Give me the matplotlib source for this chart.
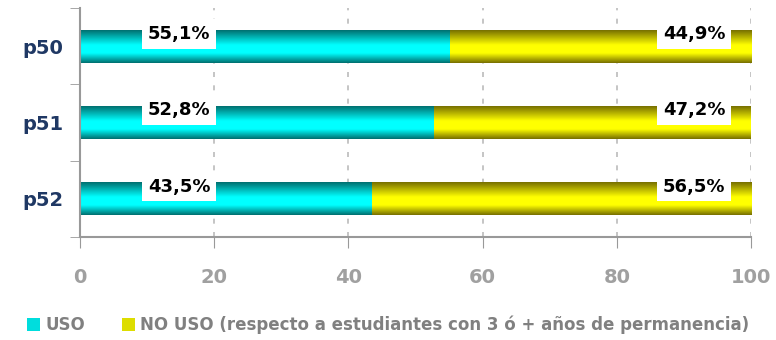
import numpy as np
import matplotlib.pyplot as plt
from matplotlib.colors import LinearSegmentedColormap
from matplotlib.patches import Patch

cats = ["p50", "p51", "p52"]
uso = [55.1, 52.8, 43.5]
no_uso = [44.9, 47.2, 56.5]
labels_uso = ["55,1%", "52,8%", "43,5%"]
labels_no = ["44,9%", "47,2%", "56,5%"]

cm_cyan = LinearSegmentedColormap.from_list(
    "c", [(0, "#007070"), (0.3, "#00FFFF"), (0.55, "#00FFFF"), (1, "#007070")])
cm_yel = LinearSegmentedColormap.from_list(
    "y", [(0, "#787000"), (0.3, "#FFFF00"), (0.55, "#FFFF00"), (1, "#787000")])
grad = np.linspace(0, 1, 100).reshape(-1, 1)

fig = plt.figure(figsize=(7.76, 3.4), dpi=100)
ax = fig.add_axes([0.1031, 0.3029, 0.8647, 0.6736])

y = np.arange(len(cats))
h = 0.43
b1 = ax.barh(y, uso, height=h, color="none")
b2 = ax.barh(y, no_uso, left=uso, height=h, color="none")
for bars, cm in ((b1, cm_cyan), (b2, cm_yel)):
    for r in bars:
        x0, y0 = r.get_x(), r.get_y()
        im = ax.imshow(grad, extent=[x0, x0 + r.get_width(), y0, y0 + r.get_height()],
                       aspect="auto", cmap=cm, zorder=2)
        im.set_clip_path(r)

for i in range(len(cats)):
    ax.text(14.8, y[i] - 0.16, labels_uso[i], ha="center", va="center", fontsize=13,
            fontweight="bold", zorder=4,
            bbox=dict(facecolor="white", edgecolor="none", pad=4))
    ax.text(91.5, y[i] - 0.16, labels_no[i], ha="center", va="center", fontsize=13,
            fontweight="bold", zorder=4,
            bbox=dict(facecolor="white", edgecolor="none", pad=4))

ax.set_xlim(0, 100)
ax.set_ylim(2.5, -0.5)
ax.set_xticks([0, 20, 40, 60, 80, 100])
ax.set_yticks(y)
ax.set_yticklabels(cats, fontsize=14, fontweight="bold", color="#1F3864")
ax.set_yticks([-0.5, 0.5, 1.5, 2.5], minor=True)
ax.tick_params(axis="y", which="major", length=0, pad=12)
ax.tick_params(axis="y", which="minor", length=7, color="#999999")
ax.tick_params(axis="x", length=8, color="#999999", labelcolor="#A0A0A0",
               labelsize=14, pad=14)
for t in ax.get_xticklabels():
    t.set_fontweight("bold")
ax.grid(axis="x", color="#BBBBBB", linestyle=(0, (3, 5)), linewidth=1.2, zorder=0)
ax.set_axisbelow(True)
for s in ["top", "right"]:
    ax.spines[s].set_visible(False)
ax.spines["left"].set_color("#999999")
ax.spines["bottom"].set_color("#999999")
ax.spines["left"].set_linewidth(1.5)
ax.spines["bottom"].set_linewidth(1.5)

handles = [Patch(facecolor="#00DDDD", edgecolor="none", label="USO"),
           Patch(facecolor="#DDDD00", edgecolor="none",
                 label="NO USO (respecto a estudiantes con 3 ó + años de permanencia)")]
leg = fig.legend(handles=handles, loc="center", bbox_to_anchor=(0.5, 0.045), ncol=2,
                 frameon=False, handlelength=0.8, handleheight=0.8, handletextpad=0.3,
                 columnspacing=2.2, prop=dict(size=12, weight="bold"))
for t in leg.get_texts():
    t.set_color("#808080")

fig.savefig("out.png", dpi=100)
